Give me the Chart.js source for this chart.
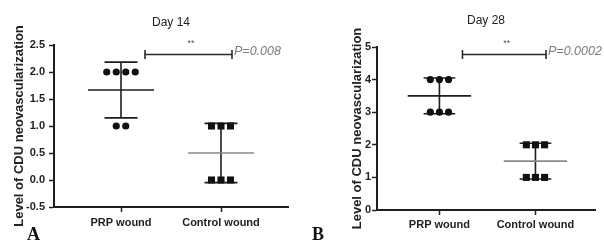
<!DOCTYPE html>
<html><head><meta charset="utf-8">
<script src="https://cdn.jsdelivr.net/npm/chart.js@4.4.1/dist/chart.umd.min.js"></script>
<style>
html,body{margin:0;padding:0;background:#fff;}
#wrap{position:relative;width:604px;height:241px;overflow:hidden;background:#fff;}
.panel{position:absolute;top:0;width:302px;height:241px;}
.lbl{position:absolute;font-family:"Liberation Serif","Times New Roman",serif;font-weight:bold;font-size:18px;color:#111;line-height:1;}
</style></head><body>
<div id="wrap">
<div class="panel" style="left:0"><canvas id="cA" width="302" height="241"></canvas></div>
<div class="panel" style="left:302px"><canvas id="cB" width="302" height="241"></canvas></div>
<div class="lbl" style="left:27px;top:225px">A</div>
<div class="lbl" style="left:312px;top:225px">B</div>
</div>
<script>
// ---- data ----
const categories = ['PRP wound', 'Control wound'];
const day14PRP = [2, 2, 2, 2, 1, 1];
const day14Control = [1, 1, 1, 0, 0, 0];
const day28PRP = [4, 4, 4, 3, 3, 3];
const day28Control = [2, 2, 2, 1, 1, 1];
const panelTitles = ['Day 14', 'Day 28'];
const pValueLabels = ['P=0.008', 'P=0.0002'];
const sigLabel = '**';
const yTitle = 'Level of CDU neovascularization';

Chart.defaults.font.family = 'Arial, "Liberation Sans", sans-serif';
Chart.defaults.color = '#222';

const DOT_SPACING = 0.095;
function jitter(values, center) {
  const counts = {}, seen = {};
  values.forEach(v => counts[v] = (counts[v] || 0) + 1);
  return values.map(v => {
    const k = counts[v]; const i = seen[v] = (seen[v] === undefined ? 0 : seen[v] + 1);
    return { x: center + (i - (k - 1) / 2) * DOT_SPACING, y: v };
  });
}
function meanSd(vals) {
  const n = vals.length, m = vals.reduce((a, b) => a + b, 0) / n;
  const sd = Math.sqrt(vals.reduce((a, b) => a + (b - m) * (b - m), 0) / (n - 1));
  return { m, sd };
}

const statsPlugin = {
  id: 'stats',
  beforeDatasetsDraw(chart) {
    const { ctx, scales: { x, y } } = chart;
    chart.data.datasets.forEach((ds, i) => {
      const { m, sd } = meanSd(ds.rawValues);
      const cx = i + 1;
      const X = v => x.getPixelForValue(v), Y = v => y.getPixelForValue(v);
      ctx.save();
      ctx.lineWidth = 1.6;
      ctx.strokeStyle = '#1e1e1e';
      ctx.beginPath();
      ctx.moveTo(X(cx), Y(m - sd)); ctx.lineTo(X(cx), Y(m + sd));
      ctx.moveTo(X(cx - 0.165), Y(m + sd)); ctx.lineTo(X(cx + 0.165), Y(m + sd));
      ctx.moveTo(X(cx - 0.165), Y(m - sd)); ctx.lineTo(X(cx + 0.165), Y(m - sd));
      ctx.stroke();
      ctx.strokeStyle = ds.meanColor;
      ctx.beginPath();
      ctx.moveTo(X(cx - 0.33), Y(m)); ctx.lineTo(X(cx + 0.33), Y(m));
      ctx.stroke();
      ctx.restore();
    });
  },
  afterDraw(chart, args, opts) {
    const { ctx, scales: { x, y } } = chart;
    const X = v => x.getPixelForValue(v), Y = v => y.getPixelForValue(v);
    const by = Math.round(Y(opts.bracketY)) + 0.5;
    const x1 = X(1.24), x2 = X(2.11);
    ctx.save();
    ctx.strokeStyle = '#2a2a2a'; ctx.lineWidth = 1.6;
    ctx.beginPath();
    ctx.moveTo(x1, by); ctx.lineTo(x2, by);
    ctx.moveTo(x1, by - 4.5); ctx.lineTo(x1, by + 4.5);
    ctx.moveTo(x2, by - 4.5); ctx.lineTo(x2, by + 4.5);
    ctx.stroke();
    ctx.fillStyle = '#555';
    ctx.font = '9px Arial, "Liberation Sans", sans-serif';
    ctx.textAlign = 'center'; ctx.textBaseline = 'middle';
    ctx.fillText(sigLabel, X(1.7), by - 11);
    ctx.fillStyle = '#7a7a7a';
    ctx.font = 'italic 12.5px Arial, "Liberation Sans", sans-serif';
    ctx.textAlign = 'left';
    ctx.fillText(opts.pText, x2 + 2, by - 3);
    ctx.restore();
  }
};

function makeChart(id, cfg) {
  return new Chart(document.getElementById(id), {
    type: 'scatter',
    data: {
      datasets: [
        { data: jitter(cfg.prp, 1), rawValues: cfg.prp, meanColor: '#1e1e1e',
          pointStyle: 'circle', pointRadius: 3.6, backgroundColor: '#111', borderColor: '#111', borderWidth: 0 },
        { data: jitter(cfg.control, 2), rawValues: cfg.control, meanColor: '#8a8a8a',
          pointStyle: 'rect', pointRadius: 5, backgroundColor: '#111', borderColor: '#111', borderWidth: 0 }
      ]
    },
    options: {
      responsive: false, animation: false, devicePixelRatio: 1,
      layout: { padding: { left: 0, right: cfg.padRight, top: 0, bottom: 0 } },
      plugins: {
        legend: { display: false }, tooltip: { enabled: false },
        title: { display: true, fullSize: false, text: cfg.title, color: '#222', font: { size: 12, weight: 'normal' },
                 padding: { top: cfg.titleTop, bottom: cfg.titleBottom } },
        stats: { bracketY: cfg.bracketY, pText: cfg.pText }
      },
      scales: {
        x: {
          type: 'linear', min: cfg.xMin, max: cfg.xMax,
          afterBuildTicks: s => { s.ticks = categories.map((c, i) => ({ value: i + 1 })); },
          afterFit: s => { s.height = cfg.xHeight; },
          ticks: { callback: v => categories[v - 1], font: { size: 11, weight: 'bold' }, color: '#222', padding: cfg.xPad, maxRotation: 0 },
          grid: { display: true, drawOnChartArea: false, drawTicks: true, tickLength: 5, tickWidth: 1.5, tickColor: '#222' },
          border: { display: true, color: '#1e1e1e', width: 2 }
        },
        y: {
          min: cfg.yMin, max: cfg.yMax,
          afterFit: s => { s.width = cfg.yWidth; },
          ticks: { stepSize: cfg.yStep, font: { size: 11, weight: 'bold' }, color: '#222', padding: cfg.yPad,
                   callback: v => cfg.yStep < 1 ? v.toFixed(1) : String(v) },
          grid: { display: true, drawOnChartArea: false, drawTicks: true, tickLength: 5, tickWidth: 1.5, tickColor: '#222' },
          border: { display: true, color: '#1e1e1e', width: 2 },
          title: { display: true, text: yTitle, color: '#222', font: { size: 13, weight: 'bold' }, padding: { top: cfg.yTitlePad, bottom: 0 } }
        }
      }
    },
    plugins: [statsPlugin]
  });
}

makeChart('cA', { prp: day14PRP, control: day14Control, title: panelTitles[0], pText: pValueLabels[0],
  yMin: -0.5, yMax: 2.5, yStep: 0.5, xMin: 0.33, xMax: 2.67, bracketY: 2.33,
  yWidth: 54, xHeight: 34, xPad: 4, yPad: 4, padRight: 14, titleTop: 15, titleBottom: 15.6, yTitlePad: 12 });
makeChart('cB', { prp: day28PRP, control: day28Control, title: panelTitles[1], pText: pValueLabels[1],
  yMin: 0, yMax: 5, yStep: 1, xMin: 0.35, xMax: 2.62, bracketY: 4.79,
  yWidth: 75, xHeight: 31, xPad: 3, yPad: 1, padRight: 9, titleTop: 13, titleBottom: 19.6, yTitlePad: 48 });
</script>
</body></html>
